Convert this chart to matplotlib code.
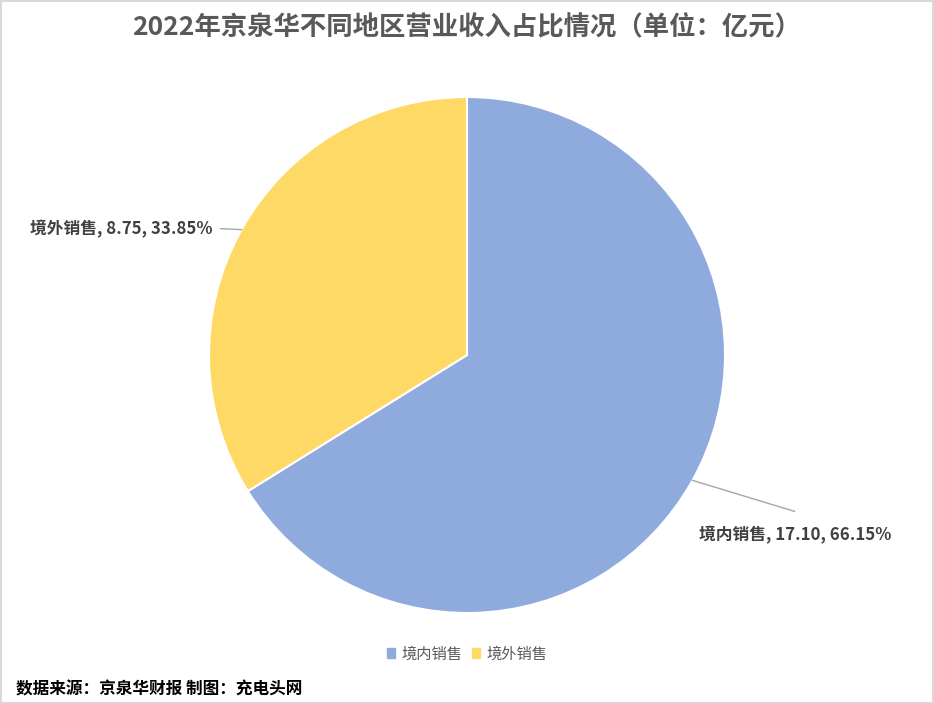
import matplotlib
matplotlib.use("Agg")
import matplotlib.pyplot as plt
import numpy as np
from matplotlib.patches import Rectangle

plt.rcParams['font.family'] = ['Noto Sans CJK SC', 'DejaVu Sans']

title = "2022年京泉华不同地区营业收入占比情况（单位：亿元）"
categories = ["境内销售", "境外销售"]
values = [17.10, 8.75]
percents = ["66.15%", "33.85%"]
colors = ["#8FAADC", "#FFD966"]
source = "数据来源：京泉华财报 制图：充电头网"

W, H = 934, 703
fig = plt.figure(figsize=(W / 100, H / 100), dpi=100)
ax = fig.add_axes([0, 0, 1, 1])
ax.set_xlim(0, W)
ax.set_ylim(0, H)
ax.set_aspect('equal')
ax.axis('off')

cx, cy, r = 467, H - 355, 258
wedges, _ = ax.pie(values, colors=colors, startangle=90, counterclock=False,
                   radius=r, center=(cx, cy),
                   wedgeprops=dict(edgecolor='white', linewidth=1.5))
ax.set_xlim(0, W)
ax.set_ylim(0, H)

label_color = "#404040"
for i, w in enumerate(wedges):
    ang = np.deg2rad((w.theta1 + w.theta2) / 2)
    px, py = cx + r * np.cos(ang), cy + r * np.sin(ang)
    txt = f"{categories[i]}, {values[i]:.2f}, {percents[i]}"
    if np.cos(ang) > 0:
        ex, ey = px + 102, py - 31
        ax.plot([px, ex], [py, ey], color="#A6A6A6", lw=1)
        ax.text(ex + 1, ey - 24, txt, ha='center', va='center', fontsize=12.1,
                fontweight='bold', color=label_color)
    else:
        ex, ey = px - 21, py + 1
        ax.plot([px, ex], [py, ey], color="#A6A6A6", lw=1)
        ax.text(ex - 8, ey, txt, ha='right', va='center', fontsize=12.1,
                fontweight='bold', color=label_color)

fig.text(0.5, 1 - 28 / H, title, ha='center', va='center', fontsize=19,
         fontweight='bold', color="#595959")

handles = [Rectangle((0, 0), 1, 1, color=c) for c in colors]
fig.legend(handles, categories, loc='center', bbox_to_anchor=(0.5, 1 - 654 / H),
           ncol=2, frameon=False, fontsize=11, handlelength=0.55, handleheight=0.55,
           handletextpad=0.4, columnspacing=0.6, labelcolor="#595959")

fig.text(16 / W, 1 - 689 / H, source, ha='left', va='center', fontsize=12,
         fontweight='bold', color='black')

fig.patches.append(Rectangle((0.5 / W, 0.5 / H), 1 - 1.5 / W, 1 - 1.5 / H,
                             transform=fig.transFigure, fill=False,
                             edgecolor="#D9D9D9", linewidth=1.5))

fig.savefig("out.png", dpi=100)
